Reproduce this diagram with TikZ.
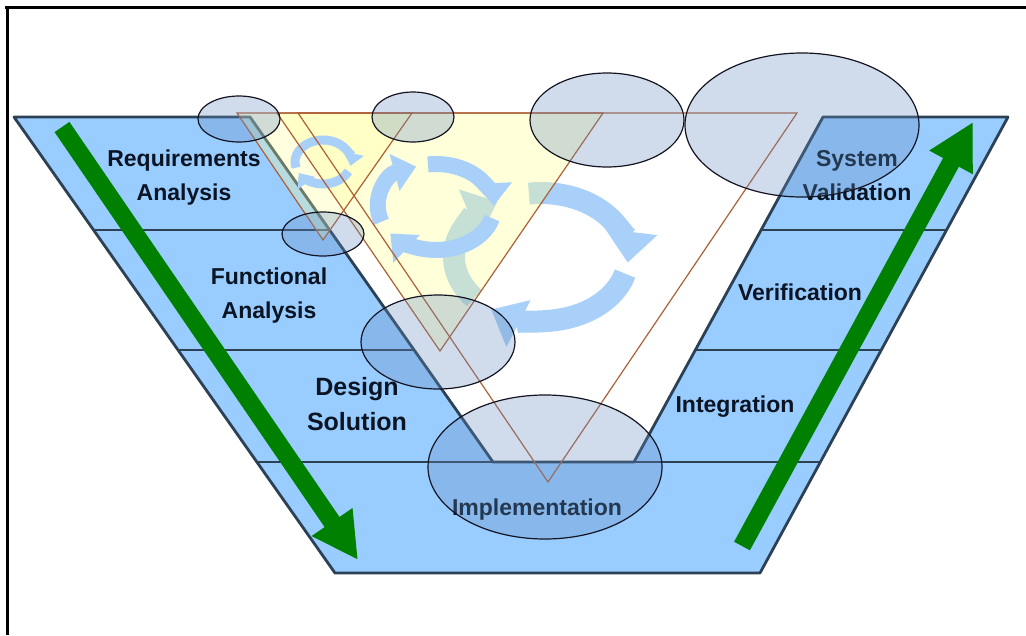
\documentclass[tikz,border=0pt]{standalone}
\usepackage{fontspec}
\setmainfont{Liberation Sans}
\usetikzlibrary{arrows.meta}
\definecolor{vblue}{RGB}{153,204,255}
\definecolor{vedge}{RGB}{45,65,85}
\definecolor{vgreen}{RGB}{0,128,0}
\definecolor{cycblue}{RGB}{168,208,248}
\definecolor{paleyellow}{RGB}{255,255,150}
\definecolor{triedge}{RGB}{175,95,55}
\definecolor{halofill}{RGB}{100,140,190}
\definecolor{halodraw}{RGB}{20,20,35}
\definecolor{labeltext}{RGB}{10,20,35}
\begin{document}
\begin{tikzpicture}[x=1pt, y=-1pt,
        band/.style={draw=vedge, line width=2.8pt, line join=round},
        stage/.style={text=labeltext, font=\bfseries\fontsize{23}{34}\selectfont, align=center, anchor=base, inner sep=0pt},
        flow/.style={draw=vgreen, line width=18pt, -{Triangle[length=46pt, width=46pt]}},
        turn/.style={draw=cycblue, line width=#1, -{Triangle[length=0pt 1.4, width=0pt 2.3]}},
        tri/.style={draw=triedge, line width=1.2pt},
        halo/.style={draw=halodraw, line width=1.2pt, fill=halofill, fill opacity=0.3}]
                \useasboundingbox (0, 0) rectangle (1026, 635);
                \draw [line width=3pt] (5, 7.5) -- (1026, 7.5);
                \draw [line width=3pt] (7.5, 6) -- (7.5, 635);
                \fill [vblue] (14, 117) -- (250, 117) -- (493, 462) -- (634, 462) -- (823, 117) -- (1008, 117) -- (760, 573) -- (335, 573) -- cycle;
                \draw [band] (14, 117) -- (250, 117) -- (493, 462) -- (634, 462) -- (823, 117) -- (1008, 117) -- (760, 573) -- (335, 573) -- cycle;
                \draw [band] (94, 230) -- (330, 230);
                \draw [band] (761, 230) -- (946, 230);
                \draw [band] (178, 350) -- (414, 350);
                \draw [band] (696, 350) -- (881, 350);
                \draw [band] (257, 462) -- (820, 462);
                \draw [turn=22pt] ([shift={(262:87 and 64)}]541, 257) arc [start angle=262, end angle=365, x radius=87, y radius=64];
                \draw [turn=22pt] ([shift={(15:87 and 64)}]541, 257) arc [start angle=15, end angle=125, x radius=87, y radius=64];
                \draw [turn=22pt] ([shift={(140:87 and 64)}]541, 257) arc [start angle=140, end angle=240, x radius=87, y radius=64];
                \fill [paleyellow, opacity=0.3] (237, 113) -- (412, 113) -- (323, 240) -- cycle;
                \fill [paleyellow, opacity=0.35] (277, 113) -- (603, 113) -- (440, 351) -- cycle;
                \draw [turn=9pt] ([shift={(165:28 and 22)}]323, 162) arc [start angle=165, end angle=370, x radius=28, y radius=22];
                \draw [turn=9pt] ([shift={(25:28 and 22)}]323, 162) arc [start angle=25, end angle=150, x radius=28, y radius=22];
                \draw [turn=16pt] ([shift={(160:58 and 43)}]436, 207) arc [start angle=160, end angle=250, x radius=58, y radius=43];
                \draw [turn=16pt] ([shift={(262:58 and 43)}]436, 207) arc [start angle=262, end angle=358, x radius=58, y radius=43];
                \draw [turn=16pt] ([shift={(15:58 and 43)}]436, 207) arc [start angle=15, end angle=142, x radius=58, y radius=43];
                \draw [tri] (237, 113) -- (412, 113) -- (323, 240) -- cycle;
                \draw [tri] (277, 113) -- (603, 113) -- (440, 351) -- cycle;
                \draw [tri] (298, 113) -- (797, 113) -- (548, 482) -- cycle;
                \draw [flow] (62, 127) -- (358, 560);
                \draw [flow] (742, 546) -- (973, 122);
                \node [stage] (reqs) at (184, 200) {Requirements\\Analysis};
                \node [stage] (func) at (269, 318) {Functional\\Analysis};
                \node [stage, font=\bfseries\fontsize{25}{35}\selectfont] (design) at (357, 430) {Design\\Solution};
                \node [stage] (impl) at (537, 515) {Implementation};
                \node [stage] (integ) at (735, 412) {Integration};
                \node [stage] (verif) at (800, 300) {Verification};
                \node [stage] (sysval) at (857, 200) {System\\Validation};
                \draw [halo] (239, 119) ellipse [x radius=41, y radius=23];
                \draw [halo] (413, 117) ellipse [x radius=41, y radius=25];
                \draw [halo] (323, 234) ellipse [x radius=41, y radius=22];
                \draw [halo] (438, 342) ellipse [x radius=77, y radius=47];
                \draw [halo] (607, 120) ellipse [x radius=77, y radius=47];
                \draw [halo] (802, 125) ellipse [x radius=117, y radius=72];
                \draw [halo] (545, 467) ellipse [x radius=117, y radius=72];
            \end{tikzpicture}
\end{document}
